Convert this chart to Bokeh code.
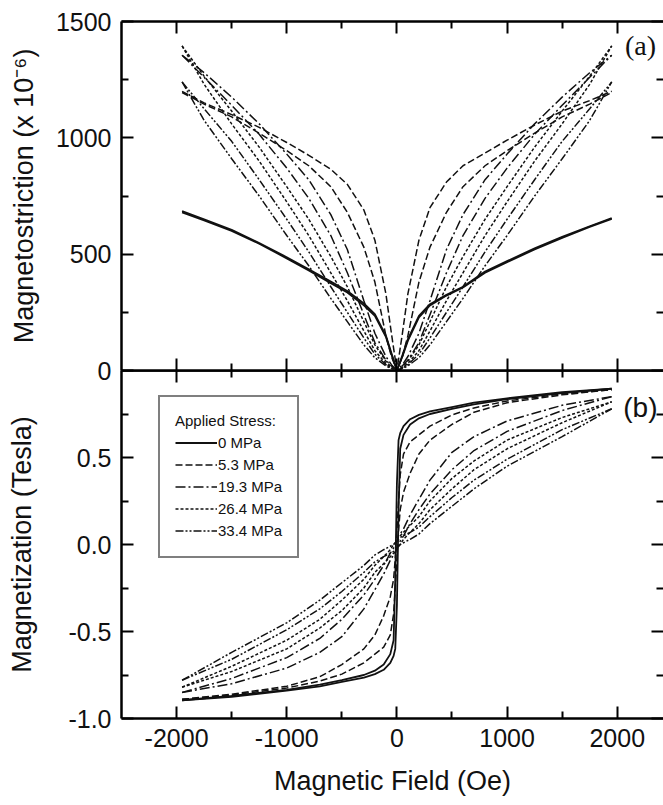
from bokeh.plotting import figure
from bokeh.layouts import column
from bokeh.models import FixedTicker, LinearAxis, Range1d, Legend, LegendItem, Label
from bokeh.embed import file_html
from bokeh.resources import INLINE

SANS = "Liberation Sans"
SERIF = "Liberation Serif"

# ---------------- data: panel (a) magnetostriction (x 10^-6) ----------------
field_a = [-1950, -1750, -1500, -1250, -1000, -800, -600, -450, -300, -200, -100, -50, 0,
           50, 100, 200, 300, 450, 600, 800, 1000, 1250, 1500, 1750, 1950]
lam_00_desc = [680, 645, 600, 545, 482, 430, 375, 335, 280, 235, 145, 70, 0,
               65, 135, 235, 285, 325, 360, 425, 470, 525, 575, 620, 655]
lam_00_asc = [685, 650, 605, 548, 487, 435, 382, 342, 288, 242, 150, 75, 0,
              60, 128, 228, 280, 322, 357, 420, 466, 520, 570, 617, 652]
lam_05_desc = [1195, 1145, 1090, 1020, 945, 880, 790, 680, 530, 380, 150, 60, 0,
               160, 330, 560, 700, 810, 880, 935, 990, 1055, 1115, 1160, 1200]
lam_05_asc = [1200, 1150, 1100, 1045, 980, 925, 865, 800, 690, 560, 330, 160, 0,
              60, 150, 380, 530, 680, 790, 880, 945, 1020, 1090, 1145, 1195]
lam_19_desc = [1355, 1260, 1140, 1015, 870, 740, 580, 420, 240, 120, 45, 20, 0,
               25, 60, 160, 300, 520, 670, 820, 930, 1060, 1175, 1280, 1355]
lam_19_asc = [1355, 1280, 1175, 1060, 930, 820, 670, 520, 300, 160, 60, 25, 0,
              20, 45, 120, 240, 420, 580, 740, 870, 1015, 1140, 1260, 1355]
lam_26_desc = [1395, 1230, 1060, 900, 725, 580, 420, 300, 170, 85, 30, 12, 0,
               15, 40, 110, 210, 360, 490, 650, 790, 960, 1115, 1265, 1395]
lam_26_asc = [1395, 1265, 1115, 960, 790, 650, 490, 360, 210, 110, 40, 15, 0,
              12, 30, 85, 170, 300, 420, 580, 725, 900, 1060, 1230, 1395]
lam_33_desc = [1240, 1075, 910, 750, 580, 450, 310, 210, 110, 55, 20, 8, 0,
               10, 25, 70, 140, 250, 360, 510, 650, 820, 985, 1125, 1240]
lam_33_asc = [1240, 1125, 985, 820, 650, 510, 360, 250, 140, 70, 25, 10, 0,
              8, 20, 55, 110, 210, 310, 450, 580, 750, 910, 1075, 1240]

# ---------------- data: panel (b) magnetization (Tesla) ----------------
field_b = [-1950, -1500, -1000, -700, -500, -300, -200, -120, -60, -30, -15, 0,
           15, 30, 60, 120, 200, 300, 500, 700, 1000, 1500, 1950]
mag_00_desc = [-0.895, -0.87, -0.835, -0.805, -0.78, -0.75, -0.725, -0.69, -0.63, -0.55, -0.20, 0.35,
               0.60, 0.64, 0.68, 0.72, 0.745, 0.765, 0.79, 0.815, 0.84, 0.875, 0.895]
mag_00_asc = [-0.895, -0.875, -0.84, -0.815, -0.79, -0.765, -0.745, -0.72, -0.68, -0.64, -0.60, -0.35,
              0.20, 0.55, 0.63, 0.69, 0.725, 0.75, 0.78, 0.805, 0.835, 0.87, 0.895]
mag_05_desc = [-0.89, -0.86, -0.815, -0.76, -0.69, -0.60, -0.52, -0.41, -0.30, -0.20, -0.08, 0.08,
               0.25, 0.40, 0.52, 0.59, 0.63, 0.68, 0.745, 0.785, 0.825, 0.865, 0.89]
mag_05_asc = [-0.89, -0.865, -0.825, -0.785, -0.745, -0.68, -0.63, -0.59, -0.52, -0.40, -0.25, -0.08,
              0.08, 0.20, 0.30, 0.41, 0.52, 0.60, 0.69, 0.76, 0.815, 0.86, 0.89]
mag_19_desc = [-0.85, -0.77, -0.65, -0.54, -0.43, -0.29, -0.20, -0.12, -0.05, -0.02, 0.0, 0.02,
               0.05, 0.06, 0.09, 0.17, 0.26, 0.37, 0.53, 0.62, 0.71, 0.80, 0.85]
mag_19_asc = [-0.85, -0.80, -0.71, -0.62, -0.53, -0.37, -0.26, -0.17, -0.09, -0.06, -0.05, -0.02,
              0.0, 0.02, 0.05, 0.12, 0.20, 0.29, 0.43, 0.54, 0.65, 0.77, 0.85]
mag_26_desc = [-0.82, -0.70, -0.55, -0.43, -0.32, -0.20, -0.12, -0.07, -0.03, 0.0, 0.01, 0.02,
               0.04, 0.05, 0.07, 0.11, 0.16, 0.25, 0.38, 0.48, 0.60, 0.73, 0.82]
mag_26_asc = [-0.82, -0.73, -0.60, -0.48, -0.38, -0.25, -0.16, -0.11, -0.07, -0.05, -0.04, -0.02,
              -0.01, 0.0, 0.03, 0.07, 0.12, 0.20, 0.32, 0.43, 0.55, 0.70, 0.82]
mag_33_desc = [-0.78, -0.62, -0.45, -0.32, -0.22, -0.12, -0.06, -0.03, -0.01, 0.0, 0.01, 0.02,
               0.03, 0.04, 0.05, 0.07, 0.10, 0.16, 0.27, 0.37, 0.49, 0.66, 0.78]
mag_33_asc = [-0.78, -0.66, -0.49, -0.37, -0.27, -0.16, -0.10, -0.07, -0.05, -0.04, -0.03, -0.02,
              -0.01, 0.0, 0.01, 0.03, 0.06, 0.12, 0.22, 0.32, 0.45, 0.62, 0.78]

stress_labels = ["0 MPa", "5.3 MPa", "19.3 MPa", "26.4 MPa", "33.4 MPa"]

# ---------------- ticks ----------------
x_major = [-2000, -1000, 0, 1000, 2000]
x_minor = [-1500, -500, 500, 1500]
x_labels = ["-2000", "-1000", "0", "1000", "2000"]
lam_major = [0, 500, 1000, 1500]
lam_minor = [250, 750, 1250]
lam_labels = ["0", "500", "1000", "1500"]
mag_major = [-1.0, -0.5, 0.0, 0.5]
mag_minor = [-0.75, -0.25, 0.25, 0.75]
mag_labels = ["-1.0", "-0.5", "0.0", "0.5"]

# ---------------- styles ----------------
DASHES = ["solid", "7 3", "10 3 2 3", "3 2", "8 2 2 2 2 2"]
WIDTHS = [1.8, 1.5, 1.5, 1.5, 1.5]
LINE_COLOR = "#111111"


def style_axis(ax, major, minor, labels=None, line=True):
    ax.ticker = FixedTicker(ticks=major, minor_ticks=minor)
    ax.major_tick_in = 12
    ax.major_tick_out = 0
    ax.minor_tick_in = 7
    ax.minor_tick_out = 0
    ax.major_tick_line_width = 2
    ax.minor_tick_line_width = 2
    ax.major_tick_line_color = "black"
    ax.minor_tick_line_color = "black"
    if line:
        ax.axis_line_width = 2.5
        ax.axis_line_color = "black"
    else:
        ax.axis_line_color = None
    if labels is not None:
        ax.major_label_overrides = {m: l for m, l in zip(major, labels)}
        ax.major_label_text_font = SANS
        ax.major_label_text_font_size = "25px"
        ax.major_label_text_color = "#111111"
        ax.major_label_standoff = 10
    else:
        ax.major_label_text_font_size = "0px"
        ax.major_label_text_color = None
        ax.major_label_standoff = 0


def style_label(ax, text, standoff):
    ax.axis_label = text
    ax.axis_label_text_font = SANS
    ax.axis_label_text_font_size = "27px"
    ax.axis_label_text_font_style = "normal"
    ax.axis_label_text_color = "#111111"
    ax.axis_label_standoff = standoff


X_LO, X_HI = -2500, 2420
OVERLAP = 16

# ---------------- top panel (a) ----------------
top = figure(frame_width=542, frame_height=349,
             x_range=Range1d(X_LO, X_HI), y_range=Range1d(0, 1500),
             x_axis_type=None, y_axis_type=None,
             output_backend="svg", toolbar_location=None,
             min_border_left=121, min_border_right=0,
             min_border_top=21, min_border_bottom=OVERLAP,
             outline_line_color=None, background_fill_color="white",
             border_fill_color="white")

ax = LinearAxis()
style_axis(ax, lam_major, lam_minor, lam_labels)
style_label(ax, "Magnetostriction (x 10\u207b\u2076)", 14)
top.add_layout(ax, "left")
ax = LinearAxis()
style_axis(ax, lam_major, lam_minor, None, line=False)
top.add_layout(ax, "right")
ax = LinearAxis()
style_axis(ax, x_major, x_minor, None)
top.add_layout(ax, "above")
ax = LinearAxis()
style_axis(ax, x_major, x_minor, None)
top.add_layout(ax, "below")

lam_series = [(lam_00_desc, lam_00_asc), (lam_05_desc, lam_05_asc), (lam_19_desc, lam_19_asc),
              (lam_26_desc, lam_26_asc), (lam_33_desc, lam_33_asc)]
for (d, a), dash, w in zip(lam_series, DASHES, WIDTHS):
    top.line(field_a, d, line_color=LINE_COLOR, line_width=w, line_dash=dash)
    top.line(field_a, a, line_color=LINE_COLOR, line_width=w, line_dash=dash)

top.add_layout(Label(x=2070, y=1398, text="(a)", text_font=SERIF, text_font_size="28px",
                     text_baseline="middle", text_align="left", text_color="#111111"))

# ---------------- bottom panel (b) ----------------
bot = figure(frame_width=542, frame_height=348,
             x_range=top.x_range, y_range=Range1d(-1.0, 1.0),
             x_axis_type=None, y_axis_type=None,
             output_backend="svg", toolbar_location=None,
             min_border_left=121, min_border_right=0,
             min_border_top=0, min_border_bottom=84,
             outline_line_color=None, background_fill_color=None,
             border_fill_color=None, styles={"margin-top": f"-{OVERLAP}px"})

ax = LinearAxis()
style_axis(ax, mag_major, mag_minor, mag_labels)
style_label(ax, "Magnetization (Tesla)", 28)
bot.add_layout(ax, "left")
ax = LinearAxis()
style_axis(ax, mag_major, mag_minor, None, line=False)
bot.add_layout(ax, "right")
ax = LinearAxis()
style_axis(ax, x_major, x_minor, None)
bot.add_layout(ax, "above")
ax = LinearAxis()
style_axis(ax, x_major, x_minor, x_labels)
style_label(ax, "Magnetic Field (Oe)", 16)
bot.add_layout(ax, "below")

mag_series = [(mag_00_desc, mag_00_asc), (mag_05_desc, mag_05_asc), (mag_19_desc, mag_19_asc),
              (mag_26_desc, mag_26_asc), (mag_33_desc, mag_33_asc)]
items = []
for (d, a), dash, w, lab in zip(mag_series, DASHES, WIDTHS, stress_labels):
    r = bot.line(field_b, d, line_color=LINE_COLOR, line_width=w, line_dash=dash)
    bot.line(field_b, a, line_color=LINE_COLOR, line_width=w, line_dash=dash)
    items.append(LegendItem(label=lab, renderers=[r]))

legend = Legend(items=items, location=(37, 160), title="Applied Stress:",
                title_text_font=SANS, title_text_font_size="15px", title_text_font_style="normal",
                title_text_color="#111111", title_standoff=3,
                label_text_font=SANS, label_text_font_size="15px", label_text_color="#111111",
                glyph_width=42, glyph_height=21, label_height=21, label_standoff=1,
                spacing=1, padding=15, margin=0,
                border_line_color="black", border_line_width=2,
                background_fill_color="white", background_fill_alpha=1.0)
bot.add_layout(legend)

bot.add_layout(Label(x=2055, y=0.79, text="(b)", text_font=SANS, text_font_size="28px",
                     text_baseline="middle", text_align="left", text_color="#111111"))

layout = column(top, bot, spacing=0)

with open("out.html", "w") as f:
    f.write(file_html(layout, INLINE))
